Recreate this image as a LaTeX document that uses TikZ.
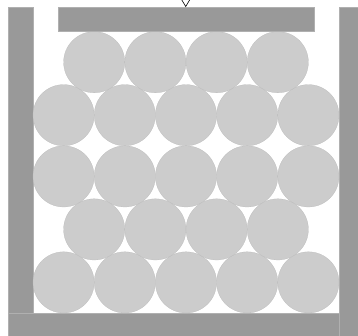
\documentclass[tikz,border=0pt]{standalone}
\definecolor{WallGray}{HTML}{999999}
\definecolor{EdgeGray}{HTML}{B0B0B0}
\definecolor{BallGray}{HTML}{CCCCCC}
\usetikzlibrary{positioning}

\begin{document}
\begin{tikzpicture}[x=1pt, y=-1pt,
    wall/.style={fill=WallGray, draw=EdgeGray, line width=0.4pt},
    ball/.style={circle, fill=BallGray, draw=BallGray!90!black, line width=0.2pt, minimum size=61.2pt, inner sep=0pt}]
      \useasboundingbox (0,0) rectangle (358,336);
      % container
      \draw[wall] (8,7) rectangle (33,336);
      \draw[wall] (339,7) rectangle (360,336);
      \draw[wall] (8,313) rectangle (339,336);
      % granular packing
      \foreach \i in {0,...,4} {
        \node[ball] (a\i) at (63.6+61.2*\i,282.4) {};
        \node[ball] (c\i) at (63.6+61.2*\i,176.4) {};
        \node[ball] (d\i) at (63.6+61.2*\i,115.2) {};
      }
      \foreach \i in {0,...,3} {
        \node[ball] (b\i) at (94.2+61.2*\i,229.4) {};
        \node[ball] (e\i) at (94.2+61.2*\i,62.2) {};
      }
      % lid with load
      \node[wall, minimum width=256pt, minimum height=24pt, inner sep=0pt, anchor=north west] (lid) at (58,7) {};
      \draw[line width=0.6pt] ([xshift=-5pt, yshift=8pt]lid.north) -- ([xshift=-0.5pt, yshift=0.5pt]lid.north) -- ([xshift=4pt, yshift=8pt]lid.north);
    \end{tikzpicture}
\end{document}
